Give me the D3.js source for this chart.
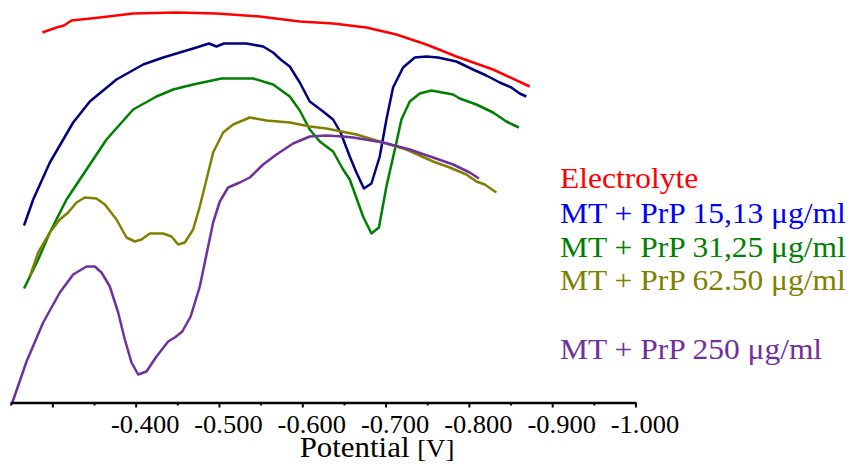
<!DOCTYPE html>
<html>
<head>
<meta charset="utf-8">
<script src="https://cdn.jsdelivr.net/npm/d3@7"></script>
<style>
  body { margin: 0; background: #fff; }
  svg { display: block; }
  text { font-family: "Liberation Serif", "Times New Roman", serif; }
</style>
</head>
<body>
<svg id="chart"></svg>
<script>
var svgWidth = 853, svgHeight = 464;

// potential [V] and relative current (arbitrary units, height above the axis)
var electrolyteV = [-0.288,-0.305,-0.314,-0.323,-0.357,-0.397,-0.449,-0.497,-0.549,-0.597,-0.637,-0.677,-0.713,-0.749,-0.785,-0.829,-0.873];
var electrolyteI = [370,375,377,382,385,389,390,389,386,381,379,375,368,358,346,333,316];

var prp1513V = [-0.266,-0.277,-0.297,-0.325,-0.345,-0.377,-0.409,-0.433,-0.457,-0.473,-0.488,-0.497,-0.506,-0.533,-0.553,-0.565,-0.574,-0.585,-0.597,-0.609,-0.625,-0.637,-0.646,-0.657,-0.665,-0.674,-0.683,-0.693,-0.701,-0.709,-0.721,-0.735,-0.749,-0.763,-0.785,-0.805,-0.821,-0.837,-0.851,-0.861,-0.869];
var prp1513I = [177,203,240,280,301,323,338,345,351,355,359,356,359,359,356,350,343,336,320,301,291,283,270,246,230,214,219,246,283,315,335,345,346,345,341,333,327,320,315,309,306];

var prp3125V = [-0.266,-0.283,-0.297,-0.317,-0.341,-0.365,-0.397,-0.425,-0.445,-0.469,-0.503,-0.517,-0.541,-0.565,-0.585,-0.597,-0.609,-0.621,-0.637,-0.649,-0.657,-0.673,-0.683,-0.692,-0.701,-0.713,-0.719,-0.729,-0.741,-0.755,-0.781,-0.789,-0.809,-0.829,-0.845,-0.860];
var prp3125I = [114,143,170,203,233,263,293,306,313,318,324,324,324,318,306,292,273,261,251,233,223,186,169,175,216,260,283,301,309,312,308,304,298,290,281,275];

var prp6250V = [-0.273,-0.283,-0.297,-0.309,-0.319,-0.329,-0.339,-0.353,-0.363,-0.377,-0.389,-0.399,-0.407,-0.417,-0.433,-0.443,-0.451,-0.459,-0.469,-0.477,-0.485,-0.493,-0.505,-0.517,-0.537,-0.557,-0.585,-0.609,-0.629,-0.665,-0.693,-0.725,-0.757,-0.777,-0.797,-0.809,-0.819,-0.833];
var prp6250I = [126,150,170,183,190,200,205,204,198,183,165,161,163,169,169,166,158,160,173,196,223,250,270,278,285,282,280,276,274,268,261,253,241,235,228,221,218,210];

var prp250V = [-0.252,-0.269,-0.289,-0.309,-0.325,-0.341,-0.351,-0.359,-0.369,-0.379,-0.387,-0.395,-0.403,-0.413,-0.425,-0.439,-0.447,-0.456,-0.466,-0.477,-0.493,-0.501,-0.511,-0.525,-0.537,-0.553,-0.569,-0.589,-0.609,-0.629,-0.649,-0.661,-0.697,-0.729,-0.757,-0.781,-0.801,-0.812];
var prp250I = [0,41,80,110,128,136,136,130,116,90,63,40,28,31,46,61,65,71,86,116,180,201,215,220,225,238,248,259,266,267,266,265,260,253,245,238,230,224];

var seriesNames = ["Electrolyte", "MT + PrP 15,13 \u03bcg/ml", "MT + PrP 31,25 \u03bcg/ml", "MT + PrP 62.50 \u03bcg/ml", "MT + PrP 250 \u03bcg/ml"];
var tickValues = [-0.25,-0.30,-0.35,-0.40,-0.45,-0.50,-0.55,-0.60,-0.65,-0.70,-0.75,-0.80,-0.85,-0.90,-0.95,-1.00];
var labelTicks = [-0.4,-0.5,-0.6,-0.7,-0.8,-0.9,-1.0];

var lineColors = ["#ff0000", "#000080", "#008000", "#808000", "#7030a0"];
var textColors = ["#ff0000", "#0000ff", "#007f00", "#808000", "#7030a0"];
var legendY = [188, 223, 257, 290, 359];

var series = [
  {v: electrolyteV, i: electrolyteI},
  {v: prp1513V, i: prp1513I},
  {v: prp3125V, i: prp3125I},
  {v: prp6250V, i: prp6250I},
  {v: prp250V, i: prp250I}
];

var svg = d3.select("svg#chart")
  .attr("width", svgWidth)
  .attr("height", svgHeight);

var xScale = d3.scaleLinear()
  .domain([-0.25, -1.0])
  .range([10.7, 635.5]);

var yScale = d3.scaleLinear()
  .domain([0, 400])
  .range([402.5, 2.5]);

var line = d3.line()
  .x(function(d) { return xScale(d[0]); })
  .y(function(d) { return yScale(d[1]); });

// curves
svg.append("g").attr("class", "curves")
  .selectAll("path")
  .data(series)
.enter().append("path")
  .attr("d", function(s) { return line(s.v.map(function(v, k) { return [v, s.i[k]]; })); })
  .style("fill", "none")
  .style("stroke", function(d, i) { return lineColors[i]; })
  .style("stroke-width", "2.5px")
  .style("stroke-linejoin", "round");

// x axis
function isMajor(d) { return Math.abs(Math.round(d * 10) - d * 10) < 1e-6; }

var xAxis = d3.axisBottom(xScale)
  .tickValues(tickValues)
  .tickSizeInner(5)
  .tickSizeOuter(0)
  .tickFormat(function(d) {
    return labelTicks.some(function(t) { return Math.abs(t - d) < 1e-6; }) ? d.toFixed(3) : "";
  });

var axisG = svg.append("g")
  .attr("class", "x axis")
  .attr("transform", "translate(0,402.5)")
  .call(xAxis);

axisG.select(".domain").style("stroke", "#000").style("stroke-width", "2.5px");
axisG.selectAll(".tick line")
  .style("stroke", "#000")
  .style("stroke-width", "2px")
  .attr("y2", function(d) { return isMajor(d) ? 5 : 3; });
axisG.selectAll(".tick text")
  .attr("x", 0)
  .attr("y", 0)
  .attr("dy", 0)
  .attr("transform", "translate(9,30.5) scale(1.06,1)")
  .style("font-size", "25px")
  .style("font-family", "'Liberation Serif', 'Times New Roman', serif")
  .style("fill", "#000");

var title = svg.append("text")
  .attr("text-anchor", "middle")
  .attr("transform", "translate(377,457) scale(1.03,1)")
  .style("fill", "#000");
title.append("tspan").style("font-size", "30px").text("Potential ");
title.append("tspan").style("font-size", "26px").text("[V]");

// legend
svg.append("g").attr("class", "legend")
  .selectAll("text")
  .data(seriesNames)
.enter().append("text")
  .attr("transform", function(d, i) { return "translate(560," + legendY[i] + ") scale(1.05,1)"; })
  .style("font-size", "30px")
  .style("fill", function(d, i) { return textColors[i]; })
  .text(function(d) { return d; });
</script>
</body>
</html>
